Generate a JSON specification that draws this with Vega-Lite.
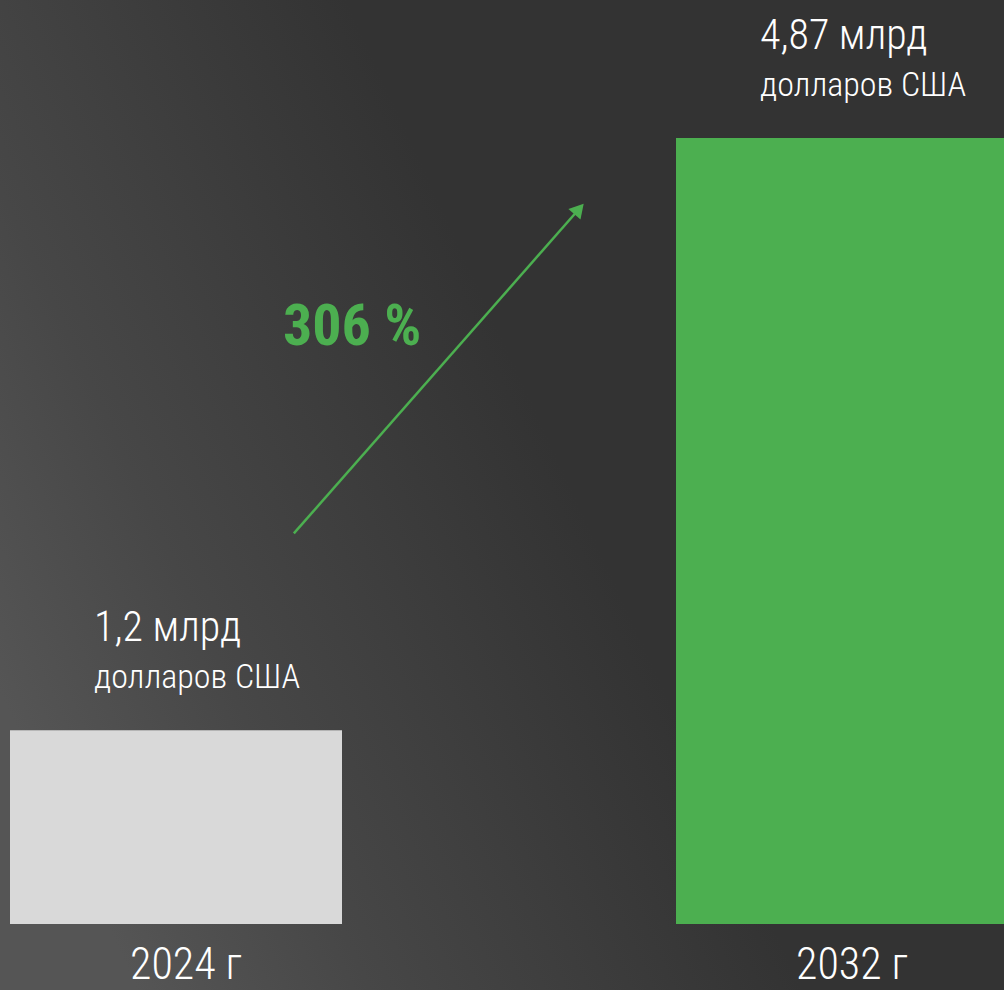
{
  "$schema": "https://vega.github.io/schema/vega-lite/v6.json",
  "width": 1004,
  "height": 990,
  "autosize": "none",
  "padding": 0,
  "background": "#333333",
  "config": {"view": {"stroke": null}, "font": "Roboto Condensed, Roboto, sans-serif"},
  "datasets": {
    "bars": [
      {"year": "2024", "value": 1.2, "line1": "1,2 млрд", "line2": "долларов США", "yearLabel": "2024 г"},
      {"year": "2032", "value": 4.87, "line1": "4,87 млрд", "line2": "долларов США", "yearLabel": "2032 г"}
    ],
    "arrow": [
      {"from": "2024", "to": "2032", "start": 2.42, "end": 4.43, "growth": "306 %", "labelY": 3.59}
    ],
    "bg": [{}]
  },
  "encoding": {},
  "layer": [
    {
      "data": {"name": "bg"},
      "mark": {
        "type": "rect",
        "fill": {"gradient": "linear", "x1": 0, "y1": 0.7, "x2": 0.55, "y2": 0.45,
          "stops": [{"offset": 0, "color": "#555555"}, {"offset": 0.35, "color": "#474747"}, {"offset": 1, "color": "#333333"}]}
      },
      "encoding": {
        "x": {"value": 0}, "x2": {"value": "width"},
        "y": {"value": 0}, "y2": {"value": "height"}
      }
    },
    {
      "data": {"name": "bars"},
      "mark": {"type": "bar"},
      "encoding": {
        "x": {"field": "year", "type": "nominal", "axis": null,
          "scale": {"domain": ["2024", "2032"], "range": [10, 1008], "paddingInner": 0.5015, "paddingOuter": 0}},
        "y": {"field": "value", "type": "quantitative", "axis": null,
          "scale": {"domain": [0, 5.725], "range": [924, 0], "nice": false, "zero": true}},
        "color": {"field": "year", "type": "nominal", "legend": null,
          "scale": {"domain": ["2024", "2032"], "range": ["#d9d9d9", "#4caf50"]}}
      }
    },
    {
      "data": {"name": "bars"},
      "mark": {"type": "text", "align": "left", "baseline": "alphabetic", "dx": 84, "dy": -89, "fontSize": 42, "fontWeight": 300, "fill": "#ffffff"},
      "encoding": {
        "x": {"field": "year", "type": "nominal", "bandPosition": 0},
        "y": {"field": "value", "type": "quantitative"},
        "text": {"field": "line1"}
      }
    },
    {
      "data": {"name": "bars"},
      "mark": {"type": "text", "align": "left", "baseline": "alphabetic", "dx": 84, "dy": -42, "fontSize": 34, "fontWeight": 300, "fill": "#ffffff"},
      "encoding": {
        "x": {"field": "year", "type": "nominal", "bandPosition": 0},
        "y": {"field": "value", "type": "quantitative"},
        "text": {"field": "line2"}
      }
    },
    {
      "data": {"name": "bars"},
      "mark": {"type": "text", "align": "center", "baseline": "alphabetic", "dx": 10, "dy": 55, "fontSize": 44, "fontWeight": 300, "fill": "#ffffff"},
      "encoding": {
        "x": {"field": "year", "type": "nominal", "bandPosition": 0.5},
        "y": {"datum": 0, "type": "quantitative"},
        "text": {"field": "yearLabel"}
      }
    },
    {
      "data": {"name": "arrow"},
      "mark": {"type": "rule", "stroke": "#4caf50", "strokeWidth": 2.5},
      "encoding": {
        "x": {"field": "from", "type": "nominal", "bandPosition": 0.855},
        "x2": {"field": "to", "bandPosition": -0.292},
        "y": {"field": "start", "type": "quantitative"},
        "y2": {"field": "end"}
      }
    },
    {
      "data": {"name": "arrow"},
      "mark": {"type": "point", "shape": "triangle-up", "filled": true, "fill": "#4caf50", "opacity": 1, "size": 260, "angle": 41.4},
      "encoding": {
        "x": {"field": "to", "type": "nominal", "bandPosition": -0.292},
        "y": {"field": "end", "type": "quantitative"}
      }
    },
    {
      "data": {"name": "arrow"},
      "mark": {"type": "text", "align": "left", "baseline": "alphabetic", "fontSize": 58, "fontWeight": "bold", "fill": "#4caf50"},
      "encoding": {
        "x": {"field": "from", "type": "nominal", "bandPosition": 0.822},
        "y": {"field": "labelY", "type": "quantitative"},
        "text": {"field": "growth"}
      }
    }
  ]
}
